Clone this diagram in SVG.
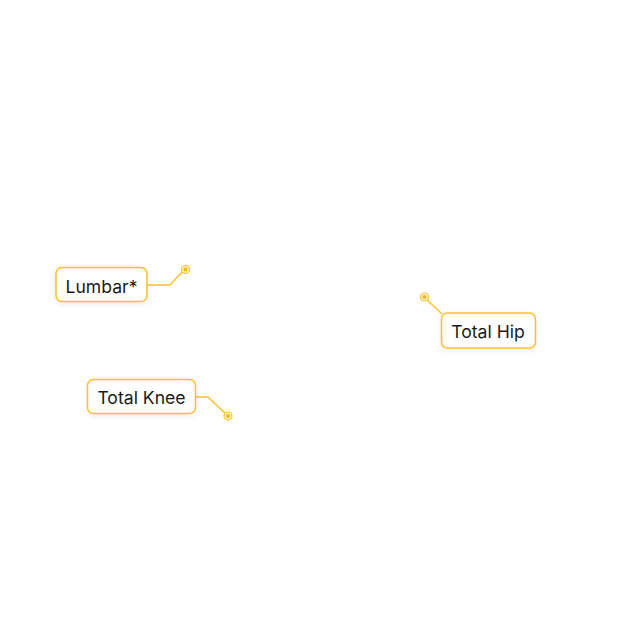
<svg xmlns="http://www.w3.org/2000/svg" width="630" height="630" viewBox="0 0 630 630">
<style>
.box{fill:#fff;stroke:#fbc02d;stroke-width:1.5;filter:url(#sh)}
.lbl{font-family:Inter,"Noto Sans",sans-serif;font-size:17.6px;fill:#1a1a1a;text-anchor:middle}
.ln{fill:none;stroke:#fbc02d;stroke-width:1.5}
.ring{fill:#fff3cf;stroke:#fbc02d;stroke-width:1.2}
.dot{fill:#f6b800}
</style>
<defs>
<filter id="sh" x="-20%" y="-30%" width="140%" height="170%">
<feDropShadow dx="0" dy="2" stdDeviation="2.5" flood-color="#000" flood-opacity="0.08"/>
</filter>
</defs>
<rect width="630" height="630" fill="#fff"/>
<g id="connectors">
<polyline class="ln" points="147,285 170,285 185,269"/>
<polyline class="ln" points="424,297 442,314"/>
<polyline class="ln" points="195,397 208,397 228,416"/>
</g>
<g id="lumbar">
<rect class="box" x="56" y="267.5" width="91" height="34" rx="6"/>
<text class="lbl" x="101.5" y="292.5">Lumbar*</text>
<circle class="ring" cx="185.5" cy="269.5" r="4"/><circle class="dot" cx="185.5" cy="269.5" r="2"/>
</g>
<g id="total-hip">
<rect class="box" x="441.5" y="313" width="94" height="35" rx="6"/>
<text class="lbl" x="488" y="337.5">Total Hip</text>
<circle class="ring" cx="424.5" cy="297" r="4"/><circle class="dot" cx="424.5" cy="297" r="2"/>
</g>
<g id="total-knee">
<rect class="box" x="87.5" y="379.5" width="108" height="34" rx="6"/>
<text class="lbl" x="141.5" y="404">Total Knee</text>
<circle class="ring" cx="228" cy="416" r="4"/><circle class="dot" cx="228" cy="416" r="2"/>
</g>
</svg>
